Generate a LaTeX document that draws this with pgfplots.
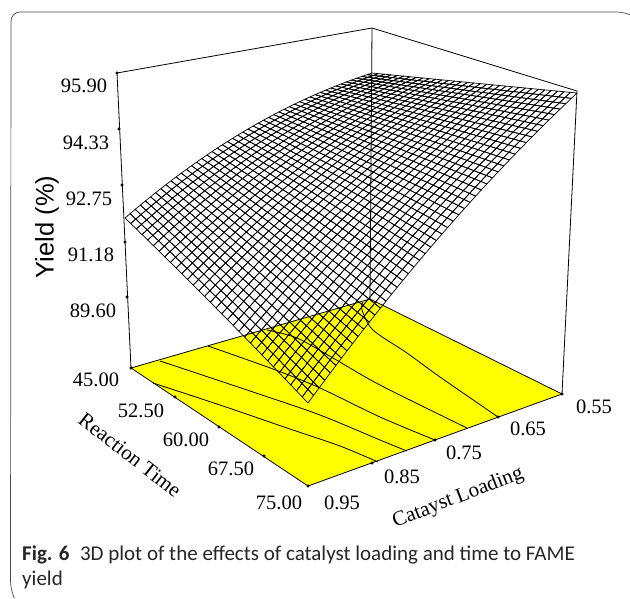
\documentclass[border=0pt]{standalone}
\usepackage{pgfplots}
\usepackage{fontspec}
\usepgfplotslibrary{patchplots}
\pgfplotsset{compat=1.18}
\setmainfont{Liberation Serif}
\newfontfamily\ysans{Liberation Sans}
\newfontfamily\capfont{Carlito}
\definecolor{basey}{RGB}{255,255,0}
\begin{document}
\begin{tikzpicture}
\begin{axis}[width=630pt,height=598pt,scale only axis,xmin=0,xmax=630,ymin=0,ymax=598,y dir=reverse,hide axis,clip=false,
  colormap={kk}{color=(black) color=(black)}]
% frame
\draw[line width=0.7pt,color=black!70,rounded corners=9pt] (axis cs:14,597.5) -- (axis cs:10.5,590) -- (axis cs:11,12) -- (axis cs:626,12) -- (axis cs:629.5,14);
% floor
\addplot[fill=basey,draw=black,line width=0.8pt] coordinates {(131,368)(370,299)(562,394)(308,486)} -- cycle;
% contours
\addplot[black,line width=0.8pt,smooth] coordinates {(153,383)(220,405)(287,428)(340,446)(378,462)};
\addplot[black,line width=0.8pt,smooth] coordinates {(160,361)(253,392)(320,415)(380,440)(407,451)};
\addplot[black,line width=0.8pt,smooth] coordinates {(208,346)(273,369)(320,388)(380,417)(435,440)};
\addplot[black,line width=0.8pt,smooth] coordinates {(267,330)(297,338)(333,358)(380,385)(467,428)};
\addplot[black,line width=0.8pt,smooth] coordinates {(363,302)(362,310)(373,330)(407,353)(440,377)(498,417)};
% box
\addplot[black,line width=0.8pt] coordinates {(131,368)(117,73)(372,28)(577,91)(562,394)};
\addplot[black,line width=0.8pt] coordinates {(372,28)(370,299)};
% surface wireframe
\addplot[patch,patch type=biquadratic,patch refines=4,mesh,line width=0.7pt] coordinates {
(125,218)(206.9,155)(302,219.2)(216,308) (165.9,184.7)(254.4,186.6)(259,261.9)(170.4,262.4) (212.4,222.7)
(206.9,155)(289.2,106.7)(388,144.2)(302,219.2) (248,129)(338.6,125.2)(345,180)(254.4,186.6) (296.5,154.1)
(289.2,106.7)(372,73)(474,83)(388,144.2) (330.6,88.1)(422.9,78)(431,111.9)(338.6,125.2) (380.7,99.8)
(216,308)(302,219.2)(397.2,287.3)(308,403) (259,261.9)(349.6,252.7)(352.6,343.6)(261.9,354.9) (305.7,302.2)
(302,219.2)(388,144.2)(486.9,183.9)(397.2,287.3) (345,180)(437.4,163.9)(442,234)(349.6,252.7) (393.5,206.6)
(388,144.2)(474,83)(577,93)(486.9,183.9) (431,111.9)(525.4,88)(532,136.9)(437.4,163.9) (481.4,124.2)
};
% tick dots
\addplot[only marks,mark=*,mark size=1.3pt,black] coordinates {(117,73)(119,129)(122,185)(125,242)(127,297)
 (131,368)(175,397)(219,427)(264,456)(308,486)(372,463)(435,440)(498,417)(562,394)};
% labels
\foreach \t/\px/\py in {95.90/84/86,94.33/86/143,92.75/89/199,91.18/91/255,89.60/93/311,45.00/96/380,52.50/141/411,60.00/186/440,67.50/231/469,75.00/279/503,0.95/342/503,0.85/402/477,0.75/464/453,0.65/528/429,0.55/594/407}{
 \edef\tmp{\noexpand\node[font=\noexpand\fontsize{20.5}{22}\noexpand\selectfont] at (axis cs:\px,\py) {\t};}\tmp}
\node[font=\ysans\fontsize{25.5}{28}\selectfont,rotate=90] at (axis cs:47,227) {Yield (\%)};
\node[font=\fontsize{21}{23}\selectfont,rotate=-38] at (axis cs:130,455) {Reaction Time};
\node[font=\fontsize{21}{23}\selectfont,rotate=21] at (axis cs:458,498) {Catayst Loading};
\node[font=\capfont\fontsize{21}{24}\selectfont,anchor=base west,text=black!85,inner sep=0pt] at (axis cs:22,560) {\textbf{Fig. 6}\hspace{0.5em}3D plot of the effects of catalyst loading and time to FAME};
\node[font=\capfont\fontsize{21}{24}\selectfont,anchor=base west,text=black!85,inner sep=0pt] at (axis cs:22,585) {yield};
\addplot[draw=none] coordinates {(0,0)(630,598)};
\end{axis}
\end{tikzpicture}
\end{document}
